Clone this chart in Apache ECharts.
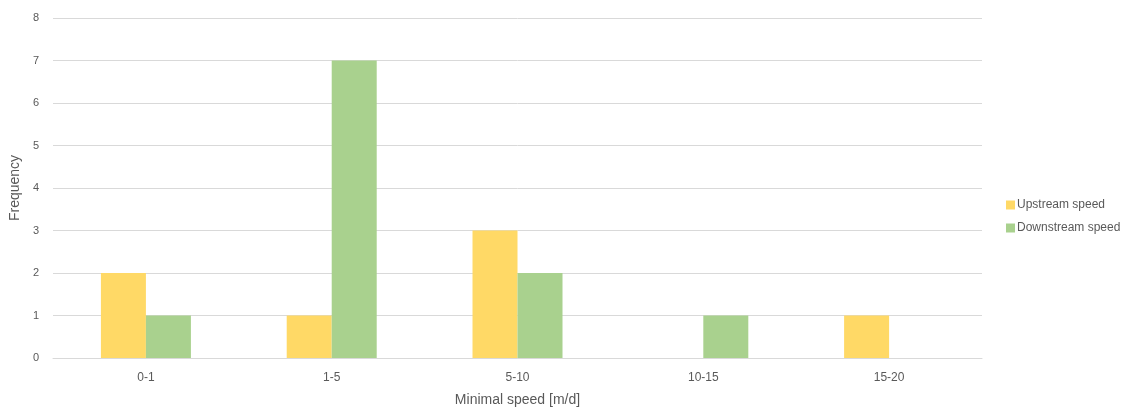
<!DOCTYPE html>
<html>
<head>
<meta charset="utf-8">
<script src="https://cdn.jsdelivr.net/npm/echarts@6/dist/echarts.min.js"></script>
<style>
html,body{margin:0;padding:0;background:#fff;}
#chart{width:1126px;height:412px;}
</style>
</head>
<body>
<div id="chart"></div>
<script>
// Speed classes and counts per class
const categories = ['0-1', '1-5', '5-10', '10-15', '15-20'];
const upstream = [2, 1, 3, 0, 1];
const downstream = [1, 7, 2, 1, 0];
const seriesNames = ['Upstream speed', 'Downstream speed'];

const chart = echarts.init(document.getElementById('chart'));
const labelColor = '#595959';
const font = 'Liberation Sans, Arial, sans-serif';

chart.setOption({
  animation: false,
  textStyle: { fontFamily: font },
  grid: { left: 51, right: 144, top: 18, bottom: 48, containLabel: false },
  legend: {
    orient: 'vertical',
    left: 1001,
    top: 194,
    itemWidth: 9,
    itemHeight: 9,
    itemGap: 11,
    icon: 'rect',
    textStyle: { color: labelColor, fontSize: 12, fontFamily: font, padding: [0, 0, 0, -3] },
    data: seriesNames
  },
  xAxis: {
    type: 'category',
    data: categories,
    axisLine: { lineStyle: { color: '#d9d9d9' } },
    axisTick: { show: false },
    axisLabel: { color: labelColor, fontSize: 12, margin: 14 },
    name: 'Minimal speed [m/d]',
    nameLocation: 'middle',
    nameGap: 35,
    nameTextStyle: { color: labelColor, fontSize: 14 }
  },
  yAxis: {
    type: 'value',
    min: 0,
    max: 8,
    interval: 1,
    axisLine: { show: false },
    axisTick: { show: false },
    splitLine: { lineStyle: { color: '#d9d9d9', width: 1 } },
    axisLabel: { color: labelColor, fontSize: 11, margin: 14 },
    name: 'Frequency',
    nameLocation: 'middle',
    nameRotate: 90,
    nameGap: 31,
    nameTextStyle: { color: labelColor, fontSize: 14 }
  },
  series: [
    {
      name: seriesNames[0],
      type: 'bar',
      data: upstream,
      barWidth: 45,
      barGap: '0%',
      itemStyle: { color: '#FFD966' }
    },
    {
      name: seriesNames[1],
      type: 'bar',
      data: downstream,
      barWidth: 45,
      itemStyle: { color: '#A9D18E' }
    }
  ]
});
</script>
</body>
</html>
